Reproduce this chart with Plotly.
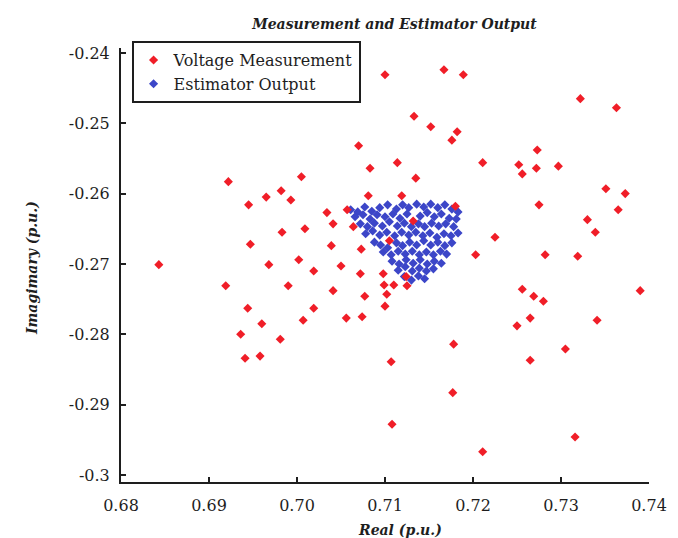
import plotly.graph_objects as go

# Voltage measurement points (real, imaginary) in p.u.
meas_real = [
    0.7100, 0.7167, 0.7189, 0.7133, 0.7152, 0.7182, 0.7176, 0.7070, 0.7114, 0.7083,
    0.7211, 0.7135, 0.7081, 0.7119, 0.7180, 0.7034, 0.7057, 0.7322, 0.7363, 0.7273,
    0.7252, 0.7256, 0.7272, 0.7297, 0.7275, 0.7351, 0.7373, 0.7365, 0.7330, 0.6922,
    0.6945, 0.6965, 0.6982, 0.6993, 0.7005, 0.6983, 0.7009, 0.6947, 0.6843, 0.6968,
    0.7002, 0.7019, 0.6919, 0.6990, 0.6944, 0.7019, 0.6960, 0.7007, 0.6936, 0.6981,
    0.6941, 0.6958, 0.7041, 0.7064, 0.7039, 0.7073, 0.7105, 0.7132, 0.7203, 0.7050,
    0.7072, 0.7098, 0.7124, 0.7099, 0.7110, 0.7125, 0.7041, 0.7077, 0.7102, 0.7339,
    0.7225, 0.7282, 0.7319, 0.7256, 0.7269, 0.7280, 0.7390, 0.7265, 0.7250, 0.7341,
    0.7305, 0.7265, 0.7107, 0.7178, 0.7177, 0.7108, 0.7316, 0.7211, 0.7056, 0.7074,
    0.7100,
]
meas_imag = [
    -0.2431, -0.2424, -0.2431, -0.2490, -0.2505, -0.2512, -0.2524, -0.2532, -0.2556, -0.2564,
    -0.2556, -0.2578, -0.2603, -0.2603, -0.2618, -0.2627, -0.2623, -0.2465, -0.2478, -0.2538,
    -0.2559, -0.2572, -0.2564, -0.2561, -0.2616, -0.2593, -0.2600, -0.2623, -0.2637, -0.2583,
    -0.2616, -0.2605, -0.2596, -0.2609, -0.2576, -0.2655, -0.2650, -0.2672, -0.2701, -0.2701,
    -0.2694, -0.2710, -0.2731, -0.2731, -0.2763, -0.2763, -0.2785, -0.2780, -0.2800, -0.2807,
    -0.2834, -0.2831, -0.2643, -0.2647, -0.2674, -0.2679, -0.2667, -0.2639, -0.2687, -0.2703,
    -0.2714, -0.2714, -0.2718, -0.2730, -0.2730, -0.2731, -0.2738, -0.2746, -0.2743, -0.2655,
    -0.2662, -0.2687, -0.2689, -0.2736, -0.2746, -0.2753, -0.2738, -0.2777, -0.2788, -0.2780,
    -0.2821, -0.2837, -0.2839, -0.2814, -0.2883, -0.2928, -0.2946, -0.2967, -0.2777, -0.2775,
    -0.2760,
]

# Estimator output points (real, imaginary) in p.u.
est_real = [
    0.7061, 0.7069, 0.7077, 0.7085, 0.7094, 0.7103, 0.7113, 0.7120, 0.7127, 0.7136,
    0.7144, 0.7152, 0.7160, 0.7168, 0.7176, 0.7183,
    0.7066, 0.7075, 0.7083, 0.7091, 0.7100, 0.7109, 0.7117, 0.7125, 0.7140, 0.7148,
    0.7156, 0.7164, 0.7173, 0.7181,
    0.7072, 0.7080, 0.7088, 0.7097, 0.7105, 0.7114, 0.7122, 0.7130, 0.7138, 0.7145,
    0.7153, 0.7161, 0.7169, 0.7178,
    0.7078, 0.7086, 0.7094, 0.7102, 0.7111, 0.7119, 0.7127, 0.7135, 0.7143, 0.7151,
    0.7159, 0.7167, 0.7175, 0.7183,
    0.7088, 0.7095, 0.7103, 0.7113, 0.7120, 0.7128, 0.7136, 0.7144, 0.7152, 0.7160,
    0.7168, 0.7176,
    0.7098, 0.7107, 0.7115, 0.7123, 0.7131, 0.7139, 0.7147, 0.7155, 0.7163, 0.7170,
    0.7108, 0.7116, 0.7124, 0.7132, 0.7140, 0.7148, 0.7156, 0.7164,
    0.7115, 0.7123, 0.7131, 0.7139, 0.7147, 0.7155,
    0.7122, 0.7130, 0.7138, 0.7145,
]
est_imag = [
    -0.2623, -0.2626, -0.2619, -0.2625, -0.2620, -0.2616, -0.2622, -0.2616, -0.2620, -0.2615,
    -0.2619, -0.2615, -0.2620, -0.2616, -0.2622, -0.2626,
    -0.2633, -0.2630, -0.2636, -0.2630, -0.2633, -0.2629, -0.2635, -0.2629, -0.2632, -0.2627,
    -0.2633, -0.2629, -0.2635, -0.2636,
    -0.2643, -0.2647, -0.2642, -0.2646, -0.2640, -0.2646, -0.2642, -0.2647, -0.2643, -0.2647,
    -0.2642, -0.2646, -0.2643, -0.2647,
    -0.2657, -0.2653, -0.2659, -0.2655, -0.2660, -0.2655, -0.2659, -0.2655, -0.2660, -0.2656,
    -0.2662, -0.2657, -0.2660, -0.2656,
    -0.2669, -0.2673, -0.2677, -0.2670, -0.2674, -0.2669, -0.2673, -0.2667, -0.2673, -0.2669,
    -0.2674, -0.2670,
    -0.2683, -0.2687, -0.2682, -0.2686, -0.2682, -0.2687, -0.2683, -0.2687, -0.2682, -0.2686,
    -0.2696, -0.2700, -0.2694, -0.2699, -0.2694, -0.2700, -0.2696, -0.2699,
    -0.2709, -0.2704, -0.2710, -0.2706, -0.2710, -0.2707,
    -0.2718, -0.2723, -0.2717, -0.2721,
]

x_ticks = [0.68, 0.69, 0.70, 0.71, 0.72, 0.73, 0.74]
x_tick_labels = ["0.68", "0.69", "0.70", "0.71", "0.72", "0.73", "0.74"]
y_ticks = [-0.24, -0.25, -0.26, -0.27, -0.28, -0.29, -0.30]
y_tick_labels = ["-0.24", "-0.25", "-0.26", "-0.27", "-0.28", "-0.29", "-0.3"]

SERIF = "DejaVu Serif"
INK = "#1e1e1e"

fig = go.Figure()
fig.add_trace(go.Scatter(
    x=est_real, y=est_imag, mode="markers", name="Estimator Output",
    marker=dict(symbol="diamond", size=7, color="#3c46c8"),
))
fig.add_trace(go.Scatter(
    x=meas_real, y=meas_imag, mode="markers", name="Voltage Measurement",
    marker=dict(symbol="diamond", size=7, color="#f01e28"),
))

fig.update_layout(
    width=678, height=538,
    margin=dict(l=113, r=37, t=40, b=64),
    paper_bgcolor="white", plot_bgcolor="white",
    font=dict(family=SERIF, size=16, color=INK),
    title=dict(
        text="<b><i>Measurement and Estimator Output</i></b>",
        x=0.57, xref="container", xanchor="center",
        y=1 - 16 / 538, yref="container", yanchor="middle",
        font=dict(family=SERIF, size=14, color=INK),
    ),
    showlegend=True,
    legend=dict(
        x=0.02, y=1.016, xanchor="left", yanchor="top",
        bgcolor="white", bordercolor=INK, borderwidth=2,
        traceorder="reversed", itemwidth=30,
        font=dict(family=SERIF, size=16, color=INK),
    ),
    xaxis=dict(
        range=[0.68, 0.74], tickvals=x_ticks, ticktext=x_tick_labels,
        ticks="inside", ticklen=5, tickwidth=1.5, tickcolor=INK,
        showline=True, linecolor=INK, linewidth=2,
        showgrid=False, zeroline=False, ticklabelstandoff=8,
        tickfont=dict(family=SERIF, size=16, color=INK),
    ),
    yaxis=dict(
        range=[-0.301, -0.2393], tickvals=y_ticks, ticktext=y_tick_labels,
        ticks="inside", ticklen=5, tickwidth=1.5, tickcolor=INK,
        showline=True, linecolor=INK, linewidth=2,
        showgrid=False, zeroline=False, ticklabelstandoff=6,
        tickfont=dict(family=SERIF, size=16, color=INK),
    ),
    annotations=[
        dict(text="<b><i>Real (p.u.)</i></b>", xref="paper", yref="paper",
             x=(392 - 113) / 528, y=-(522 - 474) / 434, xanchor="center", yanchor="middle",
             showarrow=False, font=dict(family=SERIF, size=14, color=INK)),
        dict(text="<b><i>Imagimary (p.u.)</i></b>", xref="paper", yref="paper",
             x=-(113 - 24) / 528, y=(474 - 260) / 434, xanchor="center", yanchor="middle",
             textangle=-90, showarrow=False, font=dict(family=SERIF, size=14, color=INK)),
    ],
)

fig.write_html("out.html")
